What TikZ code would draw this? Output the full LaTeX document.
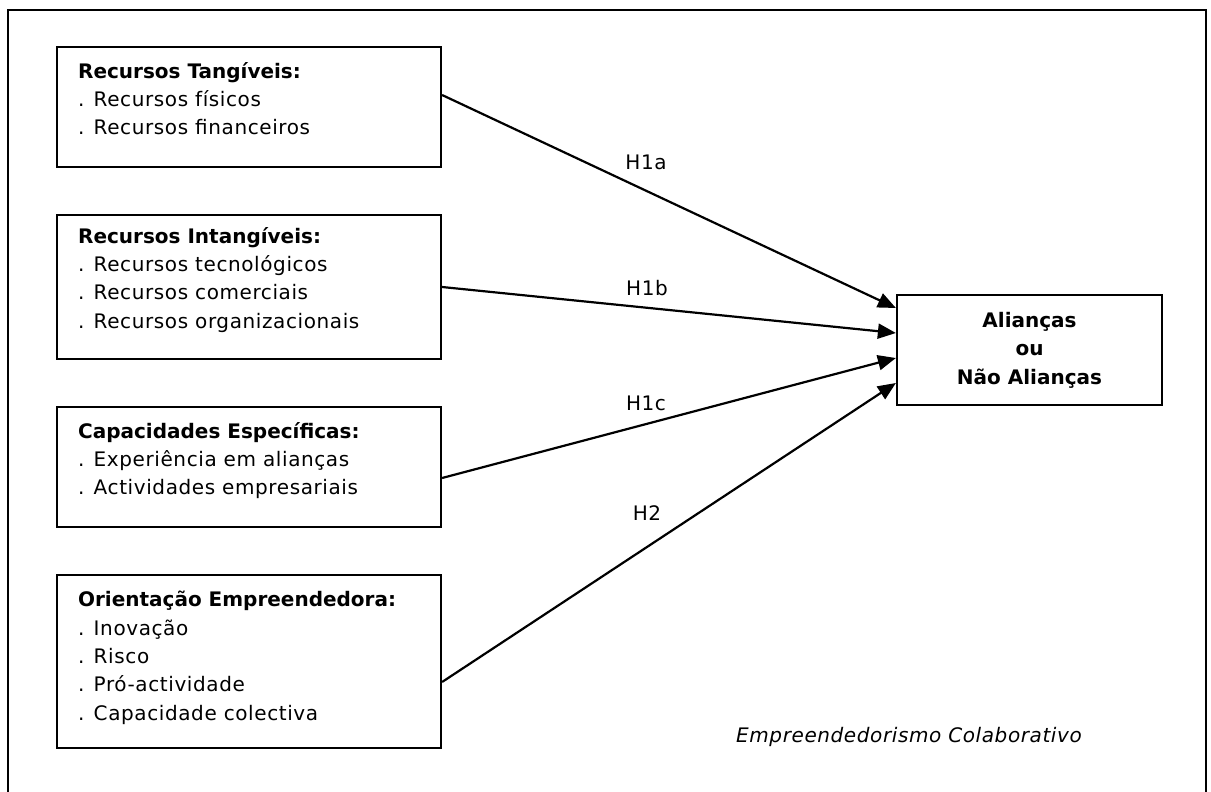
\documentclass[tikz,border=0pt]{standalone}
\usepackage{fontspec}
\setmainfont{DejaVu Sans}[LetterSpace=3, BoldFeatures={LetterSpace=0}]
\usetikzlibrary{arrows.meta}

\tikzset{
  caixa/.style={draw, line width=2.2pt, minimum width=384pt, inner sep=0pt},
  texto/.style={anchor=north west, align=left, inner sep=0pt},
  seta/.style={-{Triangle[length=18pt,width=15pt]}, line width=2.2pt},
}

\begin{document}
\begin{tikzpicture}[x=1pt, y=-1pt, font=\fontsize{20}{28.4}\selectfont]
\clip (0,0) rectangle (1211,792);
\draw[line width=2.2pt] (8,10) rectangle (1206,820);

% caixas da esquerda
\node[caixa, minimum height=120pt] (tang)   at (249,107)   {};
\node[caixa, minimum height=144pt] (intang) at (249,287)   {};
\node[caixa, minimum height=120pt] (capac)  at (249,467)   {};
\node[caixa, minimum height=173pt] (orient) at (249,661.5) {};

\node[texto] (tang-txt) at ([shift={(22pt,-16pt)}]tang.north west)
  {\textbf{Recursos Tangíveis:}\\. Recursos físicos\\. Recursos financeiros};
\node[texto] (intang-txt) at ([shift={(22pt,-13pt)}]intang.north west)
  {\textbf{Recursos Intangíveis:}\\. Recursos tecnológicos\\. Recursos comerciais\\. Recursos organizacionais};
\node[texto] (capac-txt) at ([shift={(22pt,-16pt)}]capac.north west)
  {\textbf{Capacidades Específicas:}\\. Experiência em alianças\\. Actividades empresariais};
\node[texto] (orient-txt) at ([shift={(22pt,-17pt)}]orient.north west)
  {\textbf{Orientação Empreendedora:}\\. Inovação\\. Risco\\. Pró-actividade\\. Capacidade colectiva};

% variavel dependente
\node[caixa, minimum width=265pt, minimum height=110pt, align=center, font=\fontsize{20}{28.5}\selectfont\bfseries]
  (alian) at (1029.5,350) {Alianças\\ou\\Não Alianças};

% hipoteses
\draw[seta] ([yshift=12pt]tang.east)     -- ([yshift=42pt]alian.west);
\draw[seta] (intang.east)                -- ([yshift=17pt]alian.west);
\draw[seta] ([yshift=-11pt]capac.east)   -- ([yshift=-8pt]alian.west);
\draw[seta] ([yshift=-20.5pt]orient.east) -- ([yshift=-33pt]alian.west);

\node (h1a) at (646,162) {H1a};
\node (h1b) at (647,288) {H1b};
\node (h1c) at (646,403) {H1c};
\node (h2)  at (647,513) {H2};

\node (emp) at (909,737) {\itshape Empreendedorismo Colaborativo};
\end{tikzpicture}
\end{document}
